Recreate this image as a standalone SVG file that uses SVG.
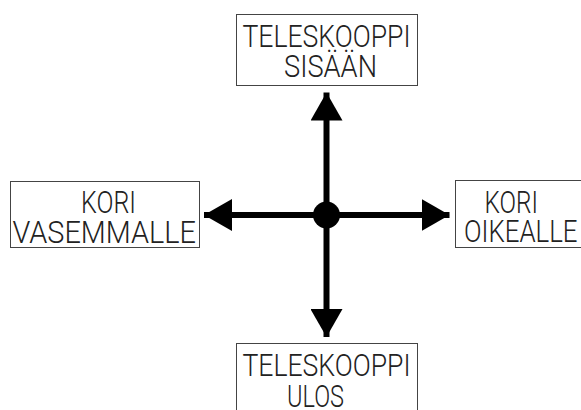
<svg xmlns="http://www.w3.org/2000/svg" width="581" height="410" viewBox="0 0 581 410">
<style>
.box{fill:#fff;stroke:#444;stroke-width:1}
.t{font-family:Roboto,"Liberation Sans",sans-serif;font-weight:300;font-size:31px;fill:#222}
.c{stroke:#000;stroke-width:6;fill:none}
</style>
<defs>
<marker id="ah" viewBox="0 0 28 32" refX="28" refY="16" markerWidth="28" markerHeight="32" markerUnits="userSpaceOnUse" orient="auto">
<path d="M0,0 L28,16 L0,32 Z" fill="#000"/>
</marker>
</defs>
<rect width="581" height="410" fill="#fff"/>
<g id="connectors">
<line class="c" x1="326.5" y1="215" x2="326.5" y2="92.5" marker-end="url(#ah)"/>
<line class="c" x1="326.5" y1="215" x2="326.5" y2="337" marker-end="url(#ah)"/>
<line class="c" x1="326.5" y1="215" x2="204" y2="215" marker-end="url(#ah)"/>
<line class="c" x1="326.5" y1="215" x2="449.5" y2="215" marker-end="url(#ah)"/>
<circle cx="326.5" cy="215" r="13.5" fill="#000"/>
</g>
<g id="node-sisaan">
<rect class="box" x="236.5" y="14.5" width="181" height="71"/>
<text class="t" x="242.5" y="46.7" textLength="168" lengthAdjust="spacingAndGlyphs">TELESKOOPPI</text>
<text class="t" x="284" y="77.2" textLength="93" lengthAdjust="spacingAndGlyphs">SISÄÄN</text>
</g>
<g id="node-vasemmalle">
<rect class="box" x="10.5" y="181.5" width="189" height="66"/>
<text class="t" x="81" y="213.2" textLength="55" lengthAdjust="spacingAndGlyphs">KORI</text>
<text class="t" x="12.5" y="243.2" textLength="183.5" lengthAdjust="spacingAndGlyphs">VASEMMALLE</text>
</g>
<g id="node-oikealle">
<rect class="box" x="455.5" y="180.5" width="127" height="67"/>
<text class="t" x="484.5" y="212.5" textLength="53.5" lengthAdjust="spacingAndGlyphs">KORI</text>
<text class="t" x="464" y="242" textLength="113.5" lengthAdjust="spacingAndGlyphs">OIKEALLE</text>
</g>
<g id="node-ulos">
<rect class="box" x="236.5" y="343.5" width="181" height="80"/>
<text class="t" x="242.5" y="376" textLength="168" lengthAdjust="spacingAndGlyphs">TELESKOOPPI</text>
<text class="t" x="287" y="407.3" textLength="57" lengthAdjust="spacingAndGlyphs">ULOS</text>
</g>
</svg>
